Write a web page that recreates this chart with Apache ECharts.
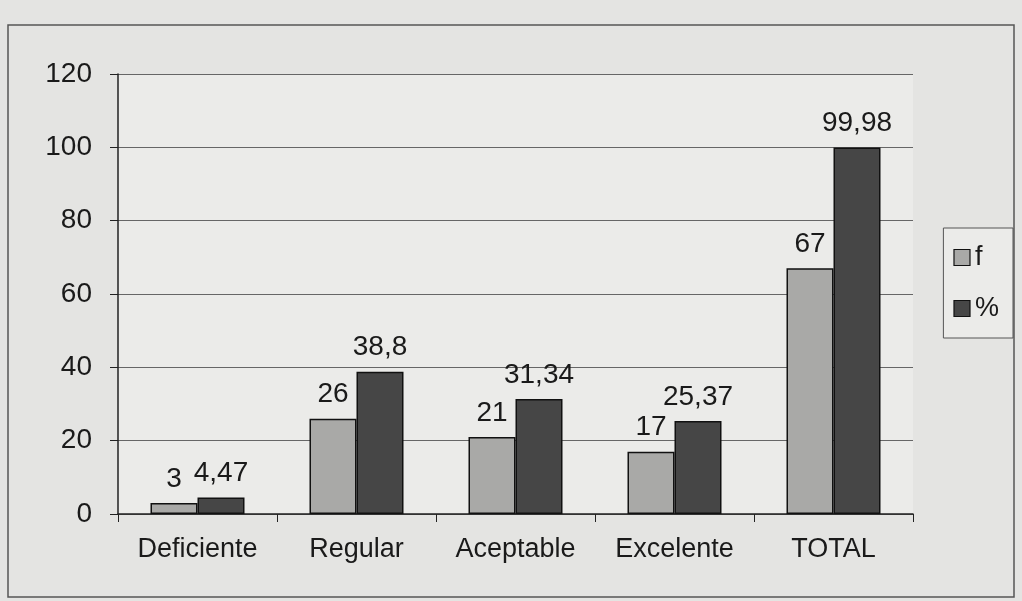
<!DOCTYPE html>
<html>
<head>
<meta charset="utf-8">
<script src="https://cdn.jsdelivr.net/npm/echarts@6/dist/echarts.min.js"></script>
<style>
  html, body { margin: 0; padding: 0; background: #e4e4e2; }
  #chart { width: 1022px; height: 601px; }
</style>
</head>
<body>
<div id="chart"></div>
<script>
// categorías y valores
const categorias = ['Deficiente', 'Regular', 'Aceptable', 'Excelente', 'TOTAL'];
const frecuencia = [3, 26, 21, 17, 67];
const porcentaje = [4.47, 38.8, 31.34, 25.37, 99.98];
const yTicks = { min: 0, max: 120, interval: 20 };

const chart = echarts.init(document.getElementById('chart'));

const fmtComa = function(p) {
    return String(p.value).replace('.', ',');
};

const option = {
    backgroundColor: '#e4e4e2',
    animation: false,
    textStyle: { fontFamily: 'Liberation Sans, Arial, sans-serif' },
    graphic: [{
        type: 'rect',
        shape: { x: 8, y: 25, width: 1006, height: 572 },
        style: { fill: 'none', stroke: '#555', lineWidth: 1.5 },
        silent: true
    }],
    grid: {
        left: 118,
        right: 109,
        top: 74,
        bottom: 87,
        show: true,
        backgroundColor: '#ebebe9',
        borderWidth: 0
    },
    legend: {
        orient: 'vertical',
        right: 9,
        top: 228,
        icon: 'rect',
        itemWidth: 16,
        itemHeight: 16,
        itemGap: 24,
        padding: [16, 14, 16, 10],
        borderColor: '#555',
        borderWidth: 1,
        backgroundColor: '#ebebe9',
        itemStyle: { borderColor: '#111', borderWidth: 1.2 },
        textStyle: { fontSize: 27, color: '#1a1a1a', padding: [0, 0, 0, 0] },
        data: ['f', '%']
    },
    xAxis: {
        type: 'category',
        data: categorias,
        axisLine: { lineStyle: { color: '#222', width: 1.5 } },
        axisTick: { show: true, length: 8, lineStyle: { color: '#222' } },
        axisLabel: { fontSize: 27, color: '#1a1a1a', margin: 22 }
    },
    yAxis: {
        type: 'value',
        min: yTicks.min,
        max: yTicks.max,
        interval: yTicks.interval,
        axisLine: { show: true, lineStyle: { color: '#222', width: 1.5 } },
        axisTick: { show: true, length: 8, lineStyle: { color: '#222' } },
        axisLabel: { fontSize: 28, color: '#1a1a1a', margin: 26 },
        splitLine: { lineStyle: { color: '#666', width: 1.2 } }
    },
    series: [{
        name: 'f',
        type: 'bar',
        data: frecuencia,
        barWidth: 47,
        barGap: '0%',
        itemStyle: { color: '#a9a9a7', borderColor: '#111', borderWidth: 1.5 },
        label: {
            show: true,
            position: 'top',
            distance: 10,
            fontSize: 28,
            color: '#1a1a1a',
            formatter: fmtComa
        }
    }, {
        name: '%',
        type: 'bar',
        data: porcentaje,
        barWidth: 47,
        itemStyle: { color: '#464646', borderColor: '#111', borderWidth: 1.5 },
        label: {
            show: true,
            position: 'top',
            distance: 10,
            fontSize: 28,
            color: '#1a1a1a',
            formatter: fmtComa
        }
    }]
};

chart.setOption(option);
</script>
</body>
</html>
